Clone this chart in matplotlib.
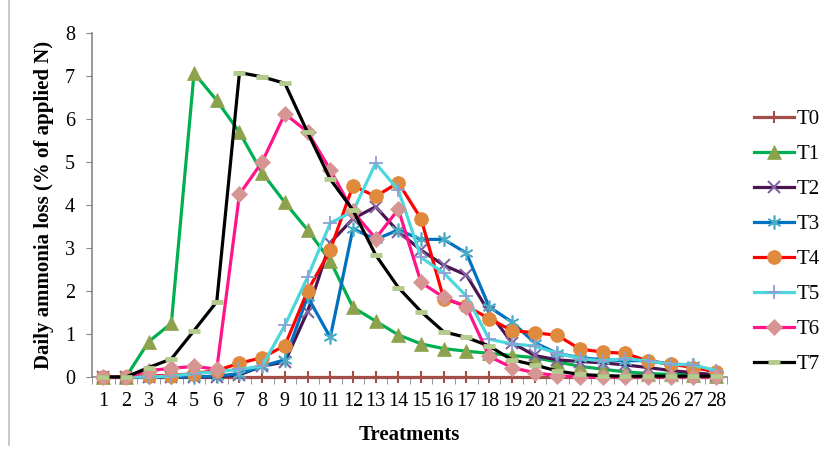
import matplotlib
matplotlib.use("Agg")
import matplotlib.pyplot as plt
from matplotlib.lines import Line2D

plt.rcParams['font.family'] = ['Liberation Serif', 'DejaVu Serif']

days = list(range(1, 29))
labels = ['T0', 'T1', 'T2', 'T3', 'T4', 'T5', 'T6', 'T7']

t0 = [0, 0, 0, 0, 0, 0, 0, 0, 0, 0, 0, 0, 0, 0,
      0, 0, 0, 0, 0, 0, 0, 0, 0, 0, 0, 0, 0, 0]
t1 = [0, 0, 0.82, 1.25, 7.07, 6.43, 5.69, 4.75, 4.06, 3.42, 2.70, 1.62, 1.30, 0.98,
      0.77, 0.66, 0.60, 0.55, 0.50, 0.45, 0.35, 0.25, 0.18, 0.12, 0.08, 0.06, 0.05, 0.03]
t2 = [0, 0, 0, 0, 0, 0, 0.05, 0.25, 0.35, 1.52, 3.12, 3.68, 3.96, 3.38,
      2.95, 2.60, 2.37, 1.50, 0.80, 0.50, 0.40, 0.36, 0.33, 0.28, 0.22, 0.15, 0.10, 0.05]
t3 = [0, 0, 0, 0, 0, 0.02, 0.08, 0.25, 0.40, 1.87, 0.92, 3.45, 3.20, 3.42,
      3.20, 3.20, 2.88, 1.63, 1.28, 0.80, 0.55, 0.45, 0.40, 0.38, 0.38, 0.30, 0.28, 0.10]
t4 = [0, 0, 0.03, 0.03, 0.08, 0.15, 0.32, 0.45, 0.73, 2.00, 2.95, 4.45, 4.20, 4.52,
      3.68, 1.82, 1.65, 1.36, 1.08, 1.03, 0.97, 0.65, 0.58, 0.55, 0.37, 0.30, 0.22, 0.12]
t5 = [0, 0, 0, 0.02, 0.08, 0.12, 0.18, 0.25, 1.20, 2.32, 3.58, 3.85, 4.97, 4.35,
      2.78, 2.42, 1.88, 0.88, 0.77, 0.72, 0.55, 0.43, 0.37, 0.43, 0.37, 0.30, 0.28, 0.15]
t6 = [0, 0, 0.15, 0.20, 0.25, 0.18, 4.25, 5.00, 6.12, 5.70, 4.82, 3.85, 3.22, 3.90,
      2.20, 1.85, 1.63, 0.48, 0.22, 0.10, 0.03, 0, 0, 0, 0, 0, 0, 0]
t7 = [0, 0, 0.22, 0.42, 1.08, 1.75, 7.08, 6.98, 6.83, 5.69, 4.60, 3.88, 2.84, 2.08,
      1.52, 1.05, 0.92, 0.72, 0.40, 0.28, 0.14, 0.06, 0.03, 0.02, 0.02, 0.02, 0.02, 0.02]

series = [t0, t1, t2, t3, t4, t5, t6, t7]

# line colour, marker, marker colour, marker size, marker edge width
styles = [
    ('#A34E48', '+', '#A34E48', 9, 1.5),
    ('#00B050', '^', '#8CA24C', 10, 0.5),
    ('#4A1450', 'x', '#8064A2', 8, 1.5),
    ('#0070C0', (6, 2, 0), '#4BACC6', 10, 1.2),
    ('#FF0000', 'o', '#E08A3E', 10, 0.5),
    ('#4DD6DC', '+', '#8EA0D2', 10, 1.3),
    ('#FF1489', 'D', '#D69593', 8, 0.5),
    ('#000000', '_', '#B3CB8D', 8, 3.5),
]

fig = plt.figure(figsize=(8.28, 4.62), dpi=100)
ax = fig.add_axes([0.111, 0.184, 0.7676, 0.7446])

for vals, lab, (lc, mk, mc, ms, mew) in zip(series, labels, styles):
    ax.plot(days, vals, color=lc, linewidth=2.3, marker=mk, markersize=ms,
            markerfacecolor=mc, markeredgecolor=mc, markeredgewidth=mew,
            label=lab, clip_on=False, zorder=3)

ax.set_xlim(0.5, 28.5)
ax.set_ylim(0, 8)
ax.set_yticks(range(0, 9))
ax.set_xticks(days)
ax.set_xticks([d - 0.5 for d in days] + [28.5], minor=True)

for s in ['top', 'right']:
    ax.spines[s].set_visible(False)
for s in ['left', 'bottom']:
    ax.spines[s].set_color('#868686')
    ax.spines[s].set_linewidth(1.2)

ax.tick_params(axis='y', direction='out', length=4, color='#868686',
               labelsize=14.5, pad=8)
ax.tick_params(axis='x', which='major', length=0, labelsize=14.5, pad=11)
ax.tick_params(axis='x', which='minor', direction='out', length=5,
               color='#868686')

ax.set_xlabel('Treatments', fontsize=15, fontweight='bold', labelpad=10)
ax.set_ylabel('Daily ammonia loss (% of applied N)', fontsize=15,
              fontweight='bold', labelpad=8)

ax.legend(loc='center left', bbox_to_anchor=(0.9106, 0.476),
          bbox_transform=fig.transFigure, frameon=False, fontsize=15,
          handlelength=1.9, handletextpad=0.15, labelspacing=0.74,
          borderpad=0, borderaxespad=0)

# thin grey frame edge on the left of the chart area
fig.add_artist(Line2D([8.5 / 828, 8.5 / 828], [1 - 445 / 462, 1],
                      color='#BFBFBF', linewidth=1.2))

fig.savefig('out.png', dpi=100)
